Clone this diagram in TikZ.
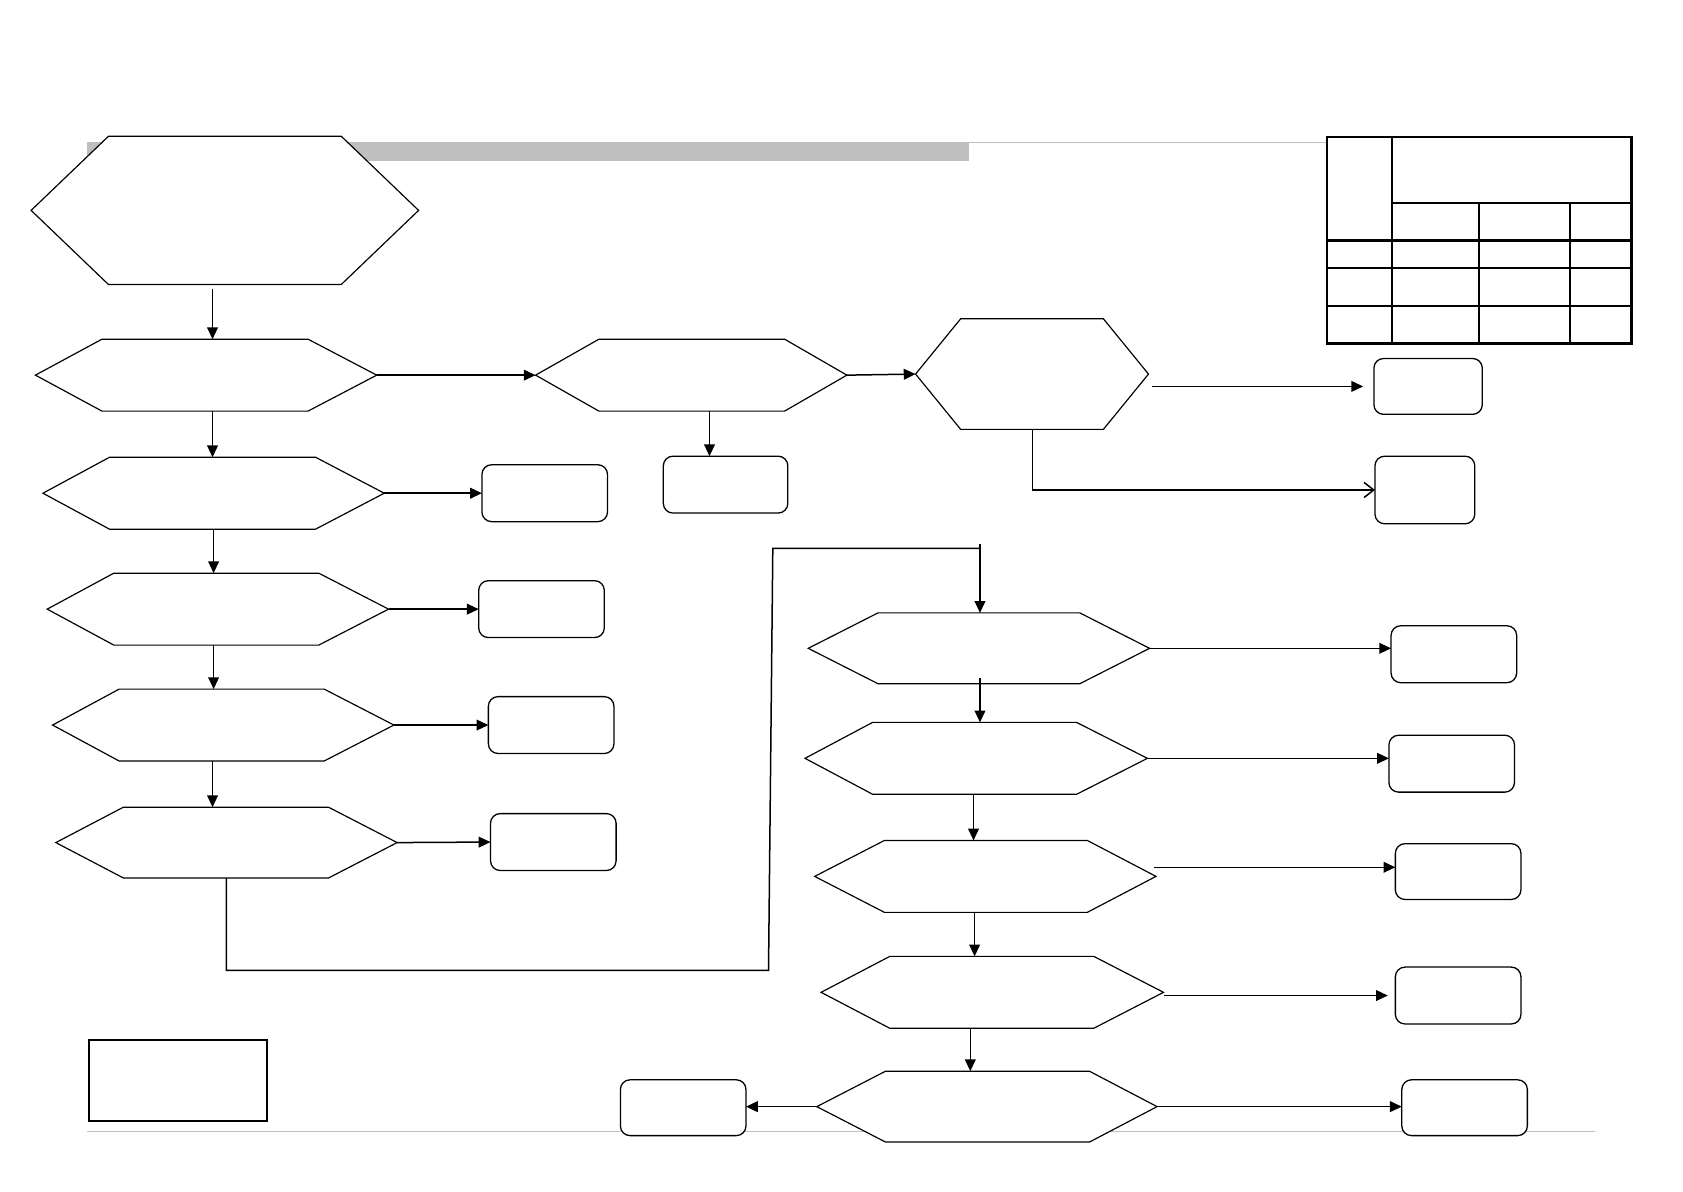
\documentclass[tikz,border=0pt]{standalone}
\usetikzlibrary{arrows.meta}
% #1 name, #2 left tip x, #3 top-left x, #4 top-right x, #5 right tip x, #6 top y, #7 bottom y
\newcommand\hexnode[7]{%
  \node[hexcore, minimum width={(#4-#3)*0.5pt}, minimum height={(#7-#6)*0.5pt}] (#1) at ({(#3+#4)/2},{(#6+#7)/2}) {};
  \coordinate (#1-l) at (#2,{(#6+#7)/2});
  \coordinate (#1-r) at (#5,{(#6+#7)/2});
  \draw[hexline] (#1-l) -- (#1.north west) -- (#1.north east) -- (#1-r) -- (#1.south east) -- (#1.south west) -- cycle;
}
% #1 name, #2 x1, #3 y1, #4 x2, #5 y2
\newcommand\rboxat[5]{%
  \node[rbox, minimum width={(#4-#2)*0.5pt}, minimum height={(#5-#3)*0.5pt}] (#1) at ({(#2+#4)/2},{(#3+#5)/2}) {};
}
\begin{document}
\begin{tikzpicture}[x=0.5pt,y=-0.5pt,
  hexline/.style={draw=black, line width=0.55pt, fill=white, line join=miter},
  hexcore/.style={shape=rectangle, draw=none, inner sep=0pt, outer sep=0pt},
  rbox/.style={shape=rectangle, draw=black, line width=0.6pt, rounded corners=4.5pt, fill=white, inner sep=0pt, outer sep=0pt},
  plainbox/.style={shape=rectangle, draw=black, line width=0.9pt, inner sep=0pt, outer sep=0pt},
  arr/.style={draw=black, line width=0.7pt, -{Triangle[length=5.5pt,width=5pt]}},
  openarr/.style={draw=black, line width=0.7pt, -{Straight Barb[length=4.5pt,width=7pt,line width=0.7pt]}},
  link/.style={draw=black, line width=0.7pt},
  guide/.style={draw=black!25, line width=0.5pt},
  tbl/.style={draw=black, line width=1pt}]
\useasboundingbox (0,0) rectangle (1568,1110);

% header bar and guide lines
\fill[black!25] (81,132) rectangle (903,150);
\draw[guide] (903,133) -- (1236,133);
\draw[guide] (81,1054) -- (1486,1054);

% table (top right)
\draw[tbl] (1236,128) rectangle (1520,320);
\draw[tbl] (1297,128) -- (1297,320);
\draw[tbl] (1297,189) -- (1520,189);
\draw[tbl] (1378,189) -- (1378,320);
\draw[tbl] (1463,189) -- (1463,320);
\draw[tbl] (1236,224) -- (1520,224);
\draw[tbl] (1236,250) -- (1520,250);
\draw[tbl] (1236,285) -- (1520,285);

% hexagons
\hexnode{h0}{29}{101}{318}{390}{127}{265}
\hexnode{h1}{33}{95}{287}{351}{316}{383}
\hexnode{h2}{40}{102}{294}{358}{426}{493}
\hexnode{h3}{44}{106}{297}{362}{534}{601}
\hexnode{h4}{49}{111}{302}{367}{642}{709}
\hexnode{h5}{52}{115}{306}{370}{752}{818}
\hexnode{h6}{499}{558}{731}{789}{316}{383}
\hexnode{h7}{853}{895}{1028}{1070}{297}{400}
\hexnode{r1}{753}{818}{1006}{1071}{571}{637}
\hexnode{r2}{750}{813}{1003}{1069}{673}{740}
\hexnode{r3}{759}{824}{1013}{1077}{783}{850}
\hexnode{r4}{765}{829}{1019}{1084}{891}{958}
\hexnode{r5}{761}{825}{1015}{1078}{998}{1064}

% rounded boxes
\rboxat{b1}{449}{433}{566}{486}
\rboxat{b2}{446}{541}{563}{594}
\rboxat{b3}{455}{649}{572}{702}
\rboxat{b4}{457}{758}{574}{811}
\rboxat{b5}{618}{425}{734}{478}
\rboxat{b6}{1280}{334}{1381}{386}
\rboxat{b7}{1281}{425}{1374}{488}
\rboxat{b8}{1296}{583}{1413}{636}
\rboxat{b9}{1294}{685}{1411}{738}
\rboxat{b10}{1300}{786}{1417}{838}
\rboxat{b11}{1300}{901}{1417}{954}
\rboxat{b12}{1306}{1006}{1423}{1058}
\rboxat{b13}{578}{1006}{695}{1058}

% plain box bottom left
\node[plainbox, minimum width={166*0.5pt}, minimum height={75*0.5pt}] (legend) at (166,1006.5) {};

% vertical chain, left column
\draw[arr, shorten <=2pt] (h0.south -| 198,0) -- (h1.north -| 198,0);
\draw[arr] (h1.south -| 198,0) -- (h2.north -| 198,0);
\draw[arr] (h2.south -| 199,0) -- (h3.north -| 199,0);
\draw[arr] (h3.south -| 199,0) -- (h4.north -| 199,0);
\draw[arr] (h4.south -| 198,0) -- (h5.north -| 198,0);

% left column to boxes
\draw[arr] (h2-r) -- (b1.west);
\draw[arr] (h3-r) -- (b2.west);
\draw[arr] (h4-r) -- (b3.west);
\draw[arr] (h5-r) -- (b4.west);

% top row
\draw[arr] (h1-r) -- (h6-l);
\draw[arr] (h6-r) -- (h7-l);
\draw[arr] (h6.south -| 661,0) -- (b5.north -| 661,0);
\draw[arr, shorten >=5pt] ([xshift=1.5pt]h7-r |- b6.west) -- (b6.west);
\draw[openarr] (h7.south -| 962,0) |- (b7.west);

% long link from h5 to r1
\coordinate (c1) at (211,904);
\coordinate (c2) at (716,904);
\coordinate (c3) at (720,511);
\coordinate (c4) at (913,511);
\draw[link] (h5.south -| 211,0) -- (c1) -- (c2) -- (c3) -- (c4);
\draw[arr] (913,507) -- (r1.north -| 913,0);

% right column chain
\draw[arr] ([yshift=2.5pt]r1.south -| 913,0) -- (r2.north -| 913,0);
\draw[arr] (r2.south -| 907,0) -- (r3.north -| 907,0);
\draw[arr] (r3.south -| 908,0) -- (r4.north -| 908,0);
\draw[arr] (r4.south -| 904,0) -- (r5.north -| 904,0);

% right column to boxes
\draw[arr] (r1-r) -- (r1-r -| b8.west);
\draw[arr] (r2-r) -- (r2-r -| b9.west);
\draw[arr] ([xshift=-1pt,yshift=2pt]r3-r |- b10.west) -- ([yshift=2pt]b10.west);
\draw[arr, shorten >=3.5pt] (r4-r |- b11.west) -- (b11.west);
\draw[arr] (r5-r) -- (r5-r -| b12.west);
\draw[arr] (r5-l) -- (r5-l -| b13.east);
\end{tikzpicture}
\end{document}
